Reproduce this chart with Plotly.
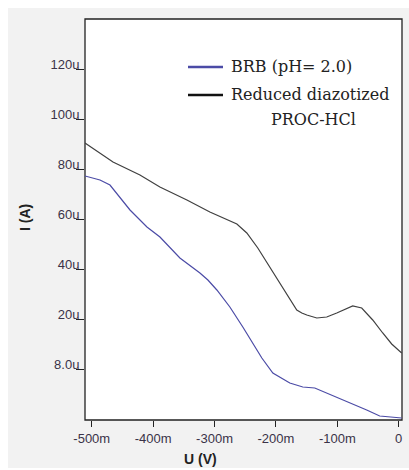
import plotly.graph_objects as go

# Data (voltage in V, current in µA on the displayed scale)
black_u = [-0.511, -0.4654, -0.4215, -0.389, -0.345, -0.3238, -0.3076, -0.2636, -0.2474, -0.2295,
           -0.210, -0.1904, -0.1774, -0.166, -0.1578, -0.1497, -0.1334, -0.1172, -0.1009, -0.0749,
           -0.0602, -0.0423, -0.026, -0.0114, 0.0049]
black_i = [90.4, 82.8, 77.6, 72.8, 67.6, 64.8, 62.8, 58.0, 54.4, 48.4,
           40.8, 32.8, 27.6, 23.6, 22.4, 21.6, 20.4, 20.8, 22.4, 25.2,
           24.4, 19.6, 14.4, 10.0, 6.4]

blue_u = [-0.511, -0.4866, -0.4703, -0.454, -0.4377, -0.4101, -0.3889, -0.3564, -0.3238, -0.3108,
          -0.2962, -0.275, -0.2539, -0.2229, -0.205, -0.1774, -0.1562, -0.1367, -0.1172, -0.0846,
          -0.0521, -0.0309, -0.0098, 0.0049]
blue_i = [77.2, 75.6, 73.6, 68.8, 63.6, 56.8, 52.8, 44.4, 38.4, 35.6,
          31.6, 24.8, 16.8, 4.4, -1.6, -5.6, -7.2, -7.6, -9.6, -13.2,
          -16.4, -18.8, -19.2, -19.6]

y_tickvals = [0, 20, 40, 60, 80, 100, 120]
y_ticktext = ["8.0u", "20u", "40u", "60u", "80u", "100u", "120u"]
x_tickvals = [-0.5, -0.4, -0.3, -0.2, -0.1, 0]
x_ticktext = ["-500m", "-400m", "-300m", "-200m", "-100m", "0"]

legend_labels = ["BRB (pH= 2.0)", "Reduced diazotized", "PROC-HCl"]
x_title = "<b>U (V)</b>"
y_title = "<b>I (A)</b>"

BLUE = "#4b4ba6"
BLACK = "#404040"

fig = go.Figure()
fig.add_trace(go.Scatter(x=black_u, y=black_i, mode="lines",
                         line=dict(color=BLACK, width=1.2), showlegend=False))
fig.add_trace(go.Scatter(x=blue_u, y=blue_i, mode="lines",
                         line=dict(color=BLUE, width=1.2), showlegend=False))

# Layout given in page pixels (body margin removed below)
W, H = 409, 470
L, R, T, B = 85, 402, 19, 420


def px(x):
    return (x - L) / (R - L)


def py(y):
    return (B - y) / (B - T)


shapes = [
    dict(type="rect", xref="paper", yref="paper", x0=px(8), x1=px(412), y0=py(468), y1=py(8),
         fillcolor="#f2f2f2", line=dict(width=0), layer="below"),
    dict(type="rect", xref="paper", yref="paper", x0=0, x1=1, y0=0, y1=1,
         fillcolor="white", line=dict(color="#222222", width=1.3), layer="below"),
    dict(type="line", xref="paper", yref="paper", x0=px(188), x1=px(223), y0=py(67), y1=py(67),
         line=dict(color=BLUE, width=2.5)),
    dict(type="line", xref="paper", yref="paper", x0=px(188), x1=px(223), y0=py(95), y1=py(95),
         line=dict(color="#111111", width=2.5)),
]

serif = dict(family="DejaVu Serif, serif", size=16, color="#222222")
sans = "Liberation Sans, Arial, sans-serif"
annotations = [
    dict(xref="paper", yref="paper", x=px(229), y=py(66), text=legend_labels[0], showarrow=False,
         xanchor="left", yanchor="middle", font=serif),
    dict(xref="paper", yref="paper", x=px(229), y=py(94), text=legend_labels[1], showarrow=False,
         xanchor="left", yanchor="middle", font=serif),
    dict(xref="paper", yref="paper", x=px(313), y=py(120), text=legend_labels[2], showarrow=False,
         xanchor="center", yanchor="middle", font=serif),
    dict(xref="paper", yref="paper", x=px(200), y=py(459), text=x_title, showarrow=False,
         xanchor="center", yanchor="middle", font=dict(family=sans, size=14, color="#222222")),
    dict(xref="paper", yref="paper", x=px(25), y=py(218), text=y_title, showarrow=False, textangle=-90,
         xanchor="center", yanchor="middle", font=dict(family=sans, size=14, color="#222222")),
]

tickfont = dict(family=sans, size=13, color="#3a3348")
fig.update_layout(
    width=W, height=H,
    margin=dict(l=L, r=W - R, t=T, b=H - B),
    paper_bgcolor="white",
    plot_bgcolor="rgba(0,0,0,0)",
    shapes=shapes,
    annotations=annotations,
    xaxis=dict(range=[-0.511, 0.0054], tickvals=x_tickvals, ticktext=x_ticktext,
               ticks="outside", ticklen=6, tickcolor="#222222", showgrid=False, zeroline=False,
               showline=False, tickfont=tickfont),
    yaxis=dict(range=[-20.4, 140], tickvals=y_tickvals, ticktext=y_ticktext,
               ticks="outside", ticklen=8, tickcolor="#222222", showgrid=False, zeroline=False,
               showline=False, tickfont=tickfont, ticklabelshift=-5, ticklabelstandoff=-6),
)

fig.write_html(
    "out.html",
    config={"displayModeBar": False},
    post_script="document.body.style.margin='0';document.documentElement.style.overflow='hidden';"
                "document.body.style.overflow='hidden';",
)
